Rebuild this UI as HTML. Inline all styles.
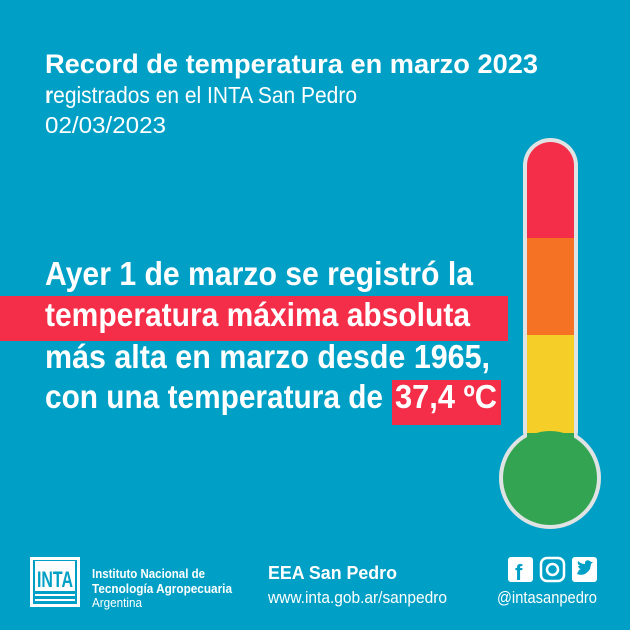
<!DOCTYPE html>
<html><head><meta charset="utf-8"><style>
html,body{margin:0;padding:0;background:#00a0c6;}
svg{display:block}
text{font-family:"Liberation Sans Narrow","Liberation Sans",sans-serif;fill:#fff}
</style></head><body>
<svg width="630" height="630" viewBox="0 0 630 630" xmlns="http://www.w3.org/2000/svg">
<rect width="630" height="630" fill="#00a0c6"/>
<text x="45" y="73" font-size="27" font-weight="bold" textLength="493" lengthAdjust="spacingAndGlyphs">Record de temperatura en marzo 2023</text>
<text x="45" y="103" font-size="23" textLength="312" lengthAdjust="spacingAndGlyphs"><tspan font-weight="bold">r</tspan>egistrados en el INTA San Pedro</text>
<text x="45" y="133" font-size="23" textLength="121" lengthAdjust="spacingAndGlyphs">02/03/2023</text>

<rect x="0" y="296" width="508" height="45" fill="#f42d48"/>
<rect x="392" y="380" width="109" height="45" fill="#f42d48"/>
<g font-size="33" font-weight="bold">
<text x="45" y="285" textLength="428" lengthAdjust="spacingAndGlyphs">Ayer 1 de marzo se registró la</text>
<text x="45" y="326" textLength="425" lengthAdjust="spacingAndGlyphs">temperatura máxima absoluta</text>
<text x="45" y="368" textLength="445" lengthAdjust="spacingAndGlyphs">más alta en marzo desde 1965,</text>
<text x="45" y="408" textLength="338" lengthAdjust="spacingAndGlyphs">con una temperatura de</text>
<text x="395" y="408" textLength="102" lengthAdjust="spacingAndGlyphs">37,4 ºC</text>
</g>

<!-- thermometer -->
<circle cx="550" cy="478" r="51" fill="#dfe3e3"/>
<rect x="523" y="138" width="55" height="320" rx="27.5" fill="#dfe3e3"/>
<clipPath id="tube"><rect x="527" y="142" width="47" height="320" rx="23.5"/></clipPath>
<g clip-path="url(#tube)">
<rect x="527" y="142" width="47" height="96" fill="#f42d48"/>
<rect x="527" y="238" width="47" height="97" fill="#f57123"/>
<rect x="527" y="335" width="47" height="98" fill="#f5cf28"/>
<rect x="527" y="433" width="47" height="40" fill="#33a552"/>
</g>
<circle cx="550" cy="478" r="47" fill="#33a552"/>

<!-- footer -->
<rect x="30" y="557" width="50" height="50" fill="#fff"/>
<rect x="33" y="560" width="44" height="44" fill="#00a0c6"/>
<rect x="35" y="561" width="40" height="30" fill="#fff"/>
<text x="37" y="587" font-size="22" font-weight="bold" style="fill:#00a0c6" textLength="36" lengthAdjust="spacingAndGlyphs">INTA</text>
<rect x="35" y="594" width="40" height="2" fill="#fff"/>
<rect x="35" y="599" width="40" height="2" fill="#fff"/>
<text x="92" y="578" font-size="12.5" font-weight="bold" textLength="113" lengthAdjust="spacingAndGlyphs">Instituto Nacional de</text>
<text x="92" y="593" font-size="12.5" font-weight="bold" textLength="140" lengthAdjust="spacingAndGlyphs">Tecnología Agropecuaria</text>
<text x="92" y="607" font-size="12.5" textLength="50" lengthAdjust="spacingAndGlyphs">Argentina</text>
<text x="268" y="579" font-size="18" font-weight="bold" textLength="129" lengthAdjust="spacingAndGlyphs">EEA San Pedro</text>
<text x="268" y="603" font-size="17" textLength="179" lengthAdjust="spacingAndGlyphs">www.inta.gob.ar/sanpedro</text>
<rect x="508" y="557" width="25" height="25" rx="3" fill="#fff"/>
<text x="515" y="580" font-size="22" font-weight="bold" style="fill:#00a0c6;font-family:'Liberation Sans',sans-serif">f</text>
<rect x="541" y="558" width="23" height="23" rx="6" fill="none" stroke="#fff" stroke-width="2.5"/>
<circle cx="552.5" cy="569.5" r="5.5" fill="none" stroke="#fff" stroke-width="2.5"/>
<rect x="572" y="557" width="25" height="25" rx="3" fill="#fff"/>
<path d="M577 574 q8 3 13 -5 l1 -5 l2 -2 l-2 0 l-1 -1 q-3 -2 -5 1 l0 2 q-4 0 -7 -3 q-1 3 2 5 l-2 0 q1 3 3 3 l-2 1 q-1 2 -2 4z" fill="#00a0c6"/>
<text x="497" y="603" font-size="17" textLength="100" lengthAdjust="spacingAndGlyphs">@intasanpedro</text>
</svg>
</body></html>
